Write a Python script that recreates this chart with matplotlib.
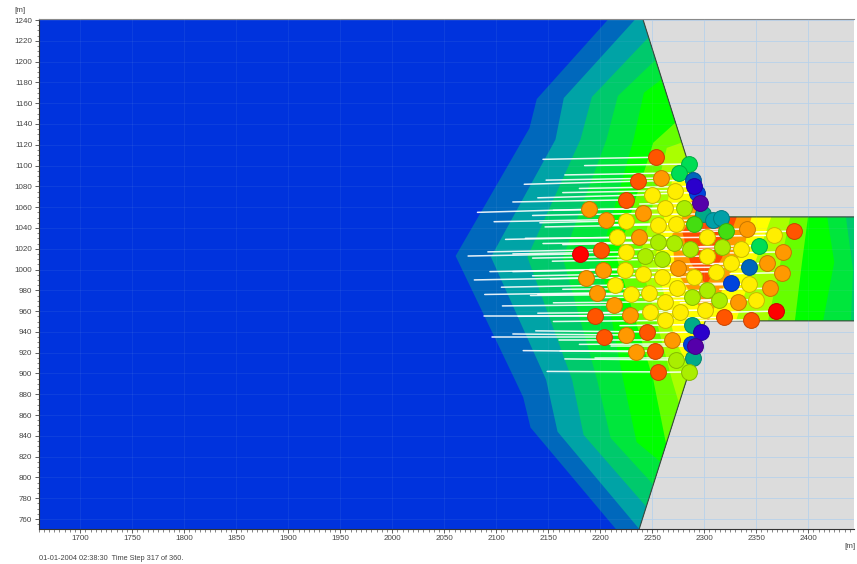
import matplotlib
matplotlib.use("Agg")
import matplotlib.pyplot as plt
from matplotlib.patches import Polygon
from matplotlib.ticker import MultipleLocator

plt.rcParams['font.family'] = ['Liberation Sans', 'DejaVu Sans']

X_MIN, X_MAX, Y_MIN, Y_MAX = 1660, 2444, 750.4, 1241

domain_x = [1660, 2241, 2301, 2444, 2444, 2301, 2237.5, 1660]
domain_y = [1241, 1241, 1050.6, 1050.6, 950.6, 950.6, 750.4, 750.4]

# Density contour boundaries: left side of wedge, then exit channel
b1_x = [2208, 2139, 2132, 2061, 2118, 2126, 2133, 2215, 2444, 2444]
b1_y = [1241, 1164, 1136, 1013, 894, 877, 848, 750.4, 750.4, 1241]
b2_x = [2234, 2165, 2157, 2095, 2148, 2159, 2237.5, 2444, 2444]
b2_y = [1241, 1165, 1125, 1012, 894, 844, 750.4, 750.4, 1241]
b3_x = [2248, 2192, 2181, 2130, 2173, 2184, 2245, 2444, 2444]
b3_y = [1225, 1166, 1125, 1012, 894, 841, 771, 750.4, 1241]
b4_x = [2253, 2217, 2206, 2164, 2197, 2210, 2252, 2441, 2443, 2436]
b4_y = [1201.5, 1167, 1125, 1011, 894, 838, 792, 949, 1000, 1052]
b5_x = [2259, 2242, 2232, 2200, 2222, 2235, 2261.5, 2414, 2425, 2418]
b5_y = [1183, 1170, 1125, 1011, 894, 834, 812, 949, 1007, 1052]
b6_x = [2272, 2251, 2216, 2251, 2264, 2387, 2394, 2400]
b6_y = [1141, 1122, 1011, 894, 829, 949, 1007, 1052]
b7_x = [2278, 2264, 2238, 2269, 2277, 2361, 2373, 2383]
b7_y = [1122, 1117, 1011, 894, 867, 949, 1005, 1052]
b8_x = [2283, 2271, 2253, 2272, 2286.5, 2330, 2349, 2365]
b8_y = [1107, 1094, 1011, 932, 903.5, 949, 1007, 1052]
b9_x = [2291, 2269, 2272, 2291, 2304, 2317, 2339, 2346]
b9_y = [1072, 1033, 1000, 971, 950, 980, 1024, 1052.5]
b10_x = [2298, 2279, 2286.5, 2302, 2317, 2332]
b10_y = [1062, 1036, 1007, 985, 1011, 1052.5]

level_x = [b1_x, b2_x, b3_x, b4_x, b5_x, b6_x, b7_x, b8_x, b9_x, b10_x]
level_y = [b1_y, b2_y, b3_y, b4_y, b5_y, b6_y, b7_y, b8_y, b9_y, b10_y]
base_colour = '#0033dd'
level_colours = ['#0068bc', '#00a3a6', '#00c96c', '#00e63c', '#00ff00',
                 '#66ff00', '#aaff00', '#ffff00', '#ff9900', '#ff4a00']

# Pedestrians
agent_x = [2254, 2285, 2276, 2258, 2236, 2289, 2293, 2290, 2272, 2250, 2225, 2299, 2296,
           2189, 2241, 2262.5, 2281, 2308, 2316, 2206, 2225, 2256, 2273, 2290, 2321, 2341,
           2367, 2386.5, 2216, 2237.5, 2303, 2256, 2271, 2286.5, 2317, 2335.5, 2353, 2376,
           2181, 2201, 2225, 2243, 2259, 2303, 2326, 2343, 2360, 2375, 2203, 2224, 2241,
           2259, 2275, 2290, 2311, 2186, 2214, 2197, 2230, 2247, 2274, 2288, 2303, 2326,
           2343, 2363, 2213, 2262.5, 2314, 2332, 2350, 2195, 2229, 2248, 2277, 2301, 2369,
           2262.5, 2319, 2345, 2288, 2297, 2204, 2225, 2245, 2269, 2289, 2287.5, 2291, 2234,
           2253, 2273, 2256, 2285]
agent_y = [1108, 1101.5, 1093, 1088, 1085, 1086, 1074, 1080, 1076, 1072, 1067, 1053.5, 1064,
           1058, 1054, 1059, 1059, 1048, 1050, 1048, 1047, 1043, 1044, 1044, 1037, 1039,
           1033, 1037, 1031, 1031, 1031, 1026.5, 1026, 1020, 1022, 1020, 1023, 1017,
           1015, 1019, 1017, 1013, 1010, 1013, 1006, 1002.5, 1006, 997, 1000, 1000, 996,
           993, 1001.5, 993, 998, 992, 985, 977.5, 976, 977.5, 982, 974, 980, 987,
           986, 982, 966, 969, 971, 969, 971, 955, 956, 959, 959, 961, 960,
           951, 954, 951.5, 947, 940, 935, 937, 940, 932, 915, 928.5, 926, 921,
           922, 913, 901.5, 901.5]
agent_kind = ['OR', 'G2', 'G2', 'O', 'OR', 'B', 'B3', 'V', 'Y', 'Y', 'OR', 'T', 'P',
              'O', 'O', 'Y', 'L', 'C', 'C', 'O', 'Y', 'Y', 'Y', 'G', 'G', 'O',
              'Y', 'OR', 'Y', 'O', 'Y', 'L', 'L', 'L', 'L', 'Y', 'G2', 'O',
              'R', 'OR', 'Y', 'L', 'L', 'Y', 'Y', 'B', 'O', 'O', 'O', 'Y', 'Y',
              'Y', 'O', 'Y', 'Y', 'O', 'Y', 'O', 'Y', 'Y', 'Y', 'L', 'L', 'B3',
              'Y', 'O', 'O', 'Y', 'L', 'O', 'Y', 'OR', 'O', 'Y', 'Y', 'Y', 'R',
              'Y', 'OR', 'OR', 'T', 'V', 'OR', 'O', 'OR', 'O', 'T', 'B3', 'P', 'O',
              'OR', 'L', 'OR', 'L']
trail_x = [2145, 2185, 2166, 2148, 2127, 2238, 2258, 2180, 2164, 2140, 2116, 2249, 2238,
           2082, 2135, 2155, 2200, 2267, 2286, 2098, 2142, 2147, 2200, 2210, 2258, 2286,
           2306, 2344, 2109, 2128, 2210, 2145, 2164, 2219, 2258, 2277, 2296, 2325,
           2073, 2092, 2116, 2135, 2154, 2238, 2267, 2286, 2306, 2325, 2094, 2116, 2135,
           2152, 2190, 2200, 2249, 2079, 2105, 2089, 2133, 2140, 2164, 2200, 2238, 2277,
           2296, 2315, 2106, 2155, 2249, 2277, 2296, 2088, 2121, 2140, 2190, 2238, 2325,
           2155, 2267, 2296, 2219, 2238, 2096, 2116, 2138, 2160, 2195, 2180, 2210, 2126,
           2161, 2166, 2149, 2249]
trail_y = [1106, 1100, 1091, 1086, 1082, 1085, 1073, 1078, 1074, 1069, 1065, 1053, 1063,
           1055, 1052, 1057, 1058, 1047, 1049, 1046, 1045, 1041, 1043, 1043, 1036, 1038,
           1032, 1036, 1029, 1030, 1030, 1025, 1024, 1019, 1021, 1019, 1022, 1016,
           1013, 1017, 1015, 1011, 1008, 1012, 1005, 1002, 1005, 996, 998, 998, 994,
           991, 1000, 992, 997, 990, 983, 976, 975, 976, 981, 973, 979, 986,
           985, 981, 965, 968, 970, 968, 970, 955, 955, 958, 958, 960, 959,
           950, 953, 951, 946, 939, 935, 938, 941, 932, 915, 928, 926, 922,
           922, 914, 902, 901]

kind_colours = {'R': '#ff0000', 'OR': '#ff5500', 'O': '#ff9900', 'Y': '#ffee00', 'L': '#aaee00',
                'G': '#44dd11', 'G2': '#00dd55', 'T': '#00aa88', 'C': '#00a0a8', 'B': '#0066bb',
                'B3': '#0044dd', 'V': '#2a00cc', 'P': '#5500aa'}

fig = plt.figure(figsize=(8.57, 5.64), dpi=100, facecolor='white')
ax = fig.add_axes([38.5 / 857, 1 - 529 / 564, (854 - 38.5) / 857, (529 - 19) / 564])
ax.set_facecolor('#dcdcdc')
ax.set_xlim(X_MIN, X_MAX)
ax.set_ylim(Y_MIN, Y_MAX)

ax.xaxis.set_major_locator(MultipleLocator(50))
ax.xaxis.set_minor_locator(MultipleLocator(5))
ax.yaxis.set_major_locator(MultipleLocator(20))
ax.yaxis.set_minor_locator(MultipleLocator(5))
ax.grid(True, which='major', color='#c0d5ea', lw=0.7, zorder=1)
ax.set_axisbelow(True)

domain = Polygon(list(zip(domain_x, domain_y)), closed=True, fc=base_colour, ec='none', zorder=2)
ax.add_patch(domain)
for xs, ys, col in zip(level_x, level_y, level_colours):
    p = Polygon(list(zip(xs, ys)), closed=True, fc=col, ec='none', zorder=2.1)
    ax.add_patch(p)
    p.set_clip_path(domain)

# Wall edges only: upper wall, then lower wall
ax.plot(domain_x[1:4], domain_y[1:4], color='#3c4a3c', lw=0.8, zorder=2.5)
ax.plot(domain_x[4:7], domain_y[4:7], color='#3c4a3c', lw=0.8, zorder=2.5)

for gx in ax.get_xticks():
    if X_MIN <= gx <= X_MAX:
        ax.axvline(gx, color='#9fbfe6', lw=0.6, alpha=0.1, zorder=2.6)
for gy in ax.get_yticks():
    if Y_MIN <= gy <= Y_MAX:
        ax.axhline(gy, color='#9fbfe6', lw=0.6, alpha=0.1, zorder=2.6)

for tx, ty, ax_, ay_ in zip(trail_x, trail_y, agent_x, agent_y):
    ax.plot([tx, ax_], [ty, ay_], color='white', lw=1.1, alpha=0.9,
            solid_capstyle='round', zorder=3)

for x, y, k in zip(agent_x, agent_y, agent_kind):
    col = matplotlib.colors.to_rgb(kind_colours[k])
    edge = tuple(c * 0.78 for c in col)
    ax.scatter([x], [y], s=130, color=[col], edgecolors=[edge], linewidths=0.7, zorder=4)

ax.spines['right'].set_visible(False)
ax.spines['top'].set_color('#8a8a8a')
ax.spines['left'].set_color('#333333')
ax.spines['bottom'].set_color('#333333')
ax.tick_params(which='major', length=3, width=0.6, color='#444444', labelsize=5.8,
               labelcolor='#444444', pad=1.5)
ax.tick_params(axis='y', which='major', pad=1.5)
ax.tick_params(which='minor', length=1.8, width=0.5, color='#555555')

fig.text(14 / 857, 1 - 11 / 564, '[m]', fontsize=5.8, color='#444444', va='center', ha='left')
fig.text(844 / 857, 1 - 547 / 564, '[m]', fontsize=5.8, color='#444444', va='center', ha='left')
fig.text(39 / 857, 1 - 558 / 564, '01-01-2004 02:38:30  Time Step 317 of 360.', fontsize=5.35,
         color='#444444', va='center', ha='left')

fig.savefig('out.png', dpi=100, facecolor='white')
